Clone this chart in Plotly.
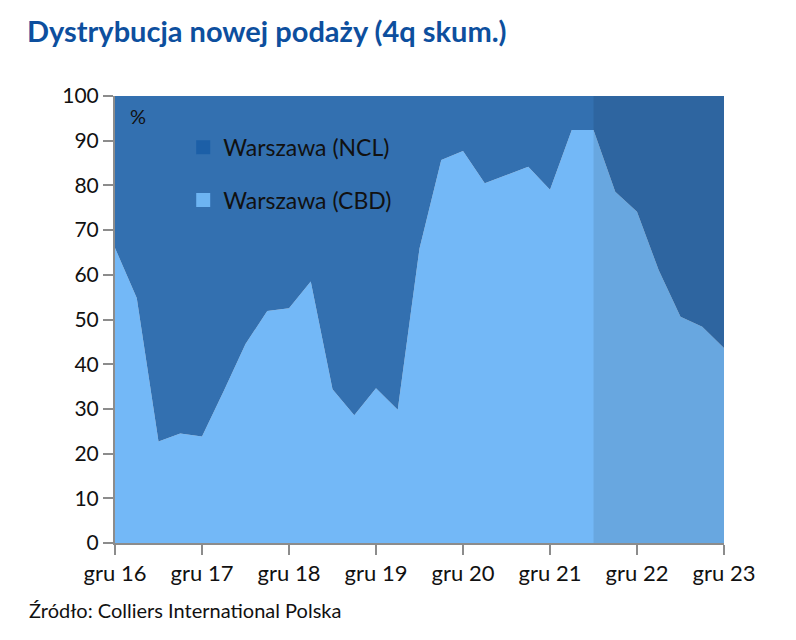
import plotly.graph_objects as go

quarters = list(range(29))
tick_positions = [0, 4, 8, 12, 16, 20, 24, 28]
tick_labels = ["gru 16", "gru 17", "gru 18", "gru 19", "gru 20", "gru 21", "gru 22", "gru 23"]
cbd = [66.0, 54.8, 22.7, 24.5, 23.8, 34.0, 44.5, 51.9, 52.5, 58.5, 34.4, 28.6, 34.6, 29.8,
       65.9, 85.7, 87.7, 80.5, 82.3, 84.2, 79.0, 92.4, 92.4, 78.6, 74.1, 61.0, 50.6, 48.4, 43.6]
ncl = [round(100 - v, 1) for v in cbd]
forecast_start = 22
forecast_end = 28

FONT = "Lato"
C_CBD = "#73b8f7"
C_NCL = "#3370b0"

fig = go.Figure()
fig.add_trace(go.Scatter(x=quarters, y=cbd, stackgroup="s", mode="none",
                         fillcolor=C_CBD, showlegend=False, name="Warszawa (CBD)"))
fig.add_trace(go.Scatter(x=quarters, y=ncl, stackgroup="s", mode="none",
                         fillcolor=C_NCL, showlegend=False, name="Warszawa (NCL)"))
# legend entries
fig.add_trace(go.Scatter(x=[None], y=[None], mode="markers", name="Warszawa (NCL)",
                         marker=dict(symbol="square", size=14, color="#1c5fa7"),
                         legend="legend"))
fig.add_trace(go.Scatter(x=[None], y=[None], mode="markers", name="Warszawa (CBD)",
                         marker=dict(symbol="square", size=14, color="#6db4f2"),
                         legend="legend2"))

fig.add_shape(type="rect", xref="x", yref="y", x0=forecast_start, x1=forecast_end,
              y0=0, y1=100, fillcolor="rgba(0,0,0,0.09)", line=dict(width=0), layer="above")

fig.add_annotation(text="%", xref="paper", yref="paper", x=0.021, y=0.955,
                   xanchor="left", yanchor="middle", showarrow=False,
                   font=dict(family=FONT, size=20, color="#111"))

fig.update_layout(
    width=796, height=640,
    margin=dict(l=115, r=72, t=96, b=97),
    paper_bgcolor="white", plot_bgcolor="white",
    title=dict(text="Dystrybucja nowej podaży (4q skum.)", x=0.034, xanchor="left",
               y=0.95, yanchor="middle",
               font=dict(family=FONT, size=29, color="#0d4f9e", weight="bold")),
    legend=dict(x=0.112, y=0.885, xanchor="left", yanchor="middle",
                bgcolor="rgba(0,0,0,0)", font=dict(family=FONT, size=23, color="#111"),
                itemwidth=30),
    legend2=dict(x=0.112, y=0.767, xanchor="left", yanchor="middle",
                 bgcolor="rgba(0,0,0,0)", font=dict(family=FONT, size=23, color="#111"),
                 itemwidth=30),
    xaxis=dict(range=[0, 28], tickvals=tick_positions, ticktext=tick_labels,
               showgrid=False, zeroline=False, showline=True, linecolor="#8c8c8c",
               linewidth=2, ticks="outside", ticklen=10, tickcolor="#8c8c8c", tickwidth=2,
               tickfont=dict(family=FONT, size=22, color="#111")),
    yaxis=dict(range=[0, 100], tickvals=list(range(0, 101, 10)),
               showgrid=False, zeroline=False, showline=True, linecolor="#8c8c8c",
               linewidth=2, ticks="outside", ticklen=10, tickcolor="#8c8c8c", tickwidth=2,
               tickfont=dict(family=FONT, size=21, color="#111")),
)

fig.add_annotation(text="Źródło: Colliers International Polska", xref="paper", yref="paper",
                   x=-0.1445, y=-0.15, xanchor="left", yanchor="middle", showarrow=False,
                   font=dict(family=FONT, size=20, color="#111"))

fig.write_html("out.html")
